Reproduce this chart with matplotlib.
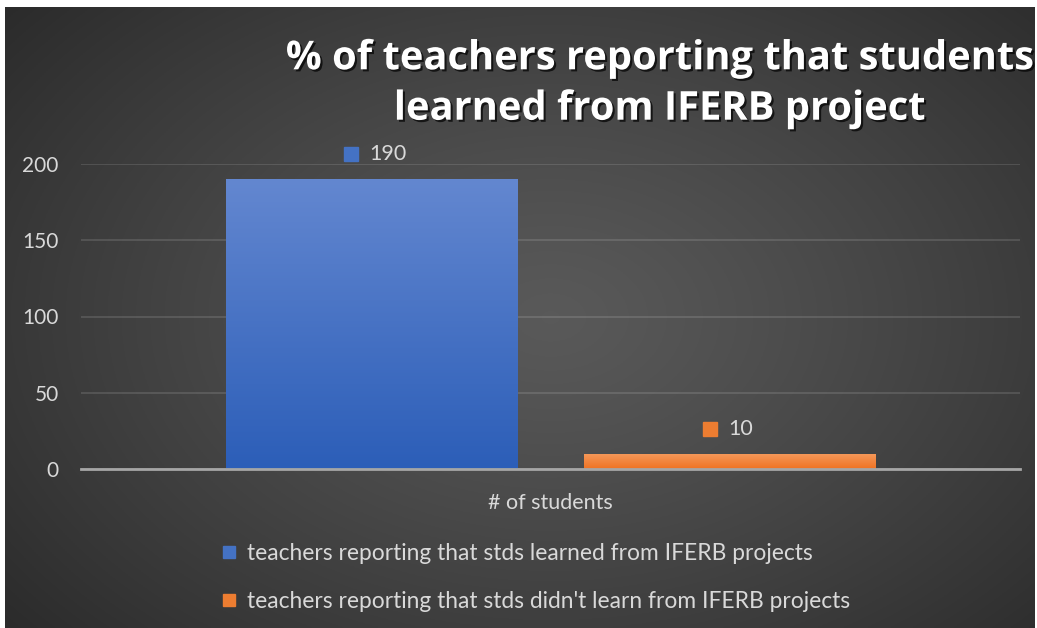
import numpy as np
import matplotlib
matplotlib.use("Agg")
import matplotlib.pyplot as plt
import matplotlib.patheffects as pe
import matplotlib.transforms as mtransforms
from matplotlib.lines import Line2D

# ---- data ----
category = ["# of students"]
series_names = ["teachers reporting that stds learned from IFERB projects",
                "teachers reporting that stds didn't learn from IFERB projects"]
series_values = [190, 10]
y_ticks = [0, 50, 100, 150, 200]
title = "% of teachers reporting that students\nlearned from IFERB project"

colors_top = ["#6387d0", "#f59a5c"]
colors_bot = ["#2c5eb8", "#f07222"]
colors_mid = ["#4472c4", "#ed7d31"]

W, H, DPI = 1037, 628, 100
fig = plt.figure(figsize=(W / DPI, H / DPI), dpi=DPI)
fig.patch.set_facecolor("white")

# background with radial gradient
bg = fig.add_axes([5 / W, 0, 1030 / W, 621 / H])
bg.set_axis_off()
yy, xx = np.mgrid[0:1:300j, 0:1:500j]
r = np.sqrt(((xx - 0.53) / 0.75) ** 2 + ((yy - 0.5) / 0.85) ** 2)
r = np.clip(r, 0, 1)
v = 0.35 - (0.35 - 0.15) * r ** 1.2
img = np.dstack([v, v, v])
bg.imshow(img, aspect="auto", extent=[0, 1, 0, 1], origin="lower")
bg.set_xlim(0, 1)
bg.set_ylim(0, 1)

ax = fig.add_axes([81 / W, 1 - 469 / H, 939 / W, 305 / H])
ax.set_facecolor("none")

fontname = "Lato"
x = np.arange(len(category))
width = 0.31
offsets = [-0.191, 0.191]
ax.set_xlim(-0.5, 0.5)
ax.set_ylim(0, 200)

for i, (name, val) in enumerate(zip(series_names, series_values)):
    bars = ax.bar(x + offsets[i], [val], width, color=colors_mid[i], zorder=3, label=name)
    for b in bars:
        x0, x1 = b.get_x(), b.get_x() + b.get_width()
        y0, y1 = 0, b.get_height()
        grad = np.linspace(0, 1, 100)[:, None]
        c0 = np.array(matplotlib.colors.to_rgb(colors_bot[i]))
        c1 = np.array(matplotlib.colors.to_rgb(colors_top[i]))
        gimg = c0[None, None, :] * (1 - grad[:, :, None]) + c1[None, None, :] * grad[:, :, None]
        im = ax.imshow(gimg, extent=[x0, x1, y0, y1], origin="lower", aspect="auto", zorder=4)
        im.set_clip_path(b)
        # data label: marker + value
        cx = b.get_x() + b.get_width() / 2
        mtr = mtransforms.offset_copy(ax.transData, fig=fig, x=-20, y=25, units="dots")
        ax.plot([cx], [val], marker="s", markersize=10, color=colors_mid[i],
                transform=mtr, clip_on=False, zorder=5)
        ax.annotate(f"{val}", xy=(cx, val), xytext=(-1, 25 * 72 / DPI), textcoords="offset points",
                    ha="left", va="center", color="#d9d9d9", fontsize=15.5, fontname=fontname)
ax.set_xlim(-0.5, 0.5)
ax.set_ylim(0, 200)

ax.set_yticks(y_ticks)
ax.set_yticklabels([str(t) for t in y_ticks], fontname=fontname, fontsize=15, color="#d9d9d9")
ax.set_xticks(x)
ax.set_xticklabels(category, fontname=fontname, fontsize=15.5, color="#d9d9d9")
ax.tick_params(axis="both", length=0)
ax.tick_params(axis="y", pad=16)
ax.tick_params(axis="x", pad=17)
for s in ["top", "right", "left"]:
    ax.spines[s].set_visible(False)
ax.spines["bottom"].set_color("#a6a6a6")
ax.spines["bottom"].set_linewidth(2)
ax.spines["bottom"].set_zorder(6)
ax.grid(axis="y", color="#ffffff", alpha=0.12, linewidth=1.5, zorder=0)
ax.set_axisbelow(True)

fig.text(660 / W, 1 - 84 / H, title, ha="center", va="center", color="white",
         fontsize=28.7, fontweight="bold", fontname="Open Sans", linespacing=1.38,
         path_effects=[pe.SimplePatchShadow(offset=(1.5, -1.5), shadow_rgbFace="black", alpha=0.7),
                       pe.Normal()])

handles = [Line2D([], [], marker="s", linestyle="none", markersize=8.5, color=c) for c in colors_mid]
leg = fig.legend(handles, series_names, loc="upper left", bbox_to_anchor=(221 / W, 1 - 543 / H),
                 frameon=False, prop={"family": fontname, "size": 16.4}, labelcolor="#d9d9d9",
                 handlelength=0.7, handletextpad=0.45, labelspacing=1.2, borderpad=0, borderaxespad=0)

fig.savefig("out.png", dpi=DPI, facecolor=fig.get_facecolor())
